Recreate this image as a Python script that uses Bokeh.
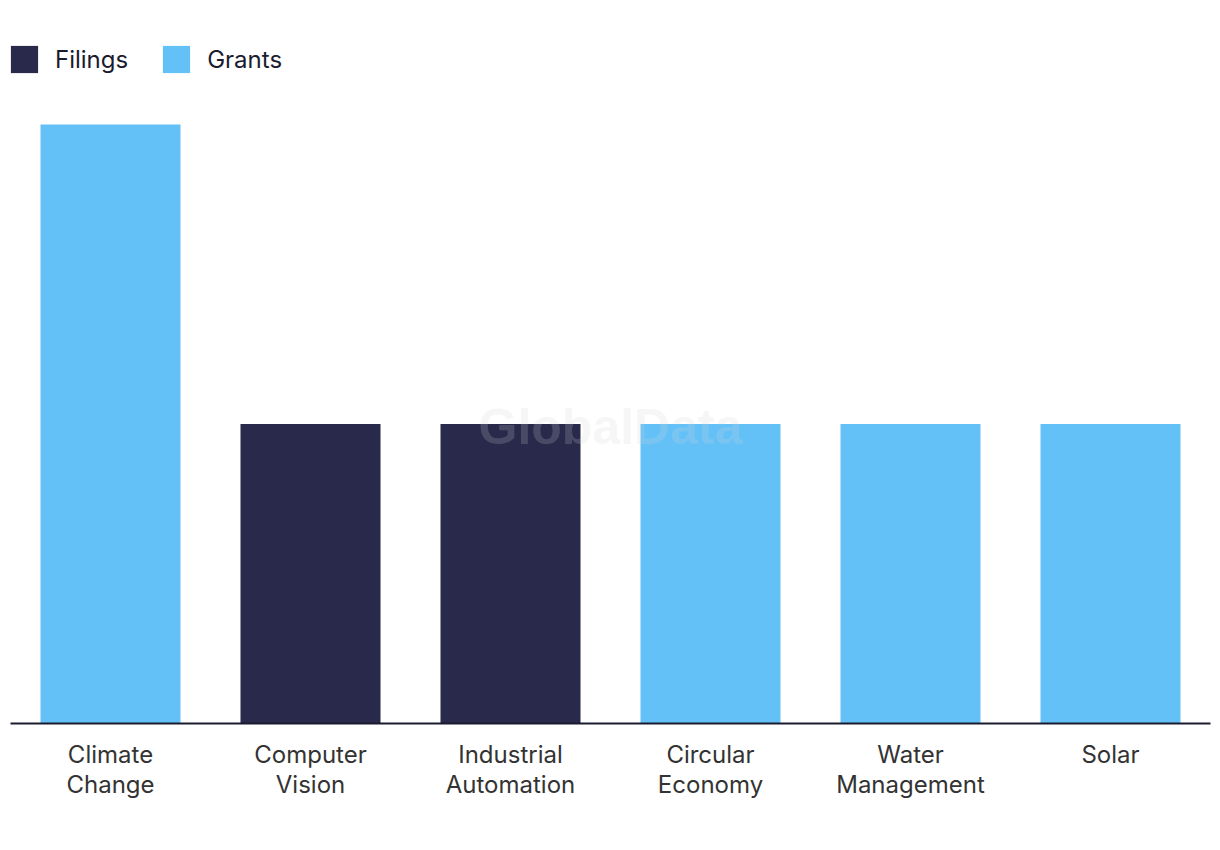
from bokeh.plotting import figure
from bokeh.models import (ColumnDataSource, FactorRange, Range1d, Legend, LegendItem,
                          CategoricalAxis, CustomJSTickFormatter)
from bokeh.core.properties import value
from bokeh.embed import file_html
from bokeh.resources import INLINE

categories = ["Climate Change", "Computer Vision", "Industrial Automation",
              "Circular Economy", "Water Management", "Solar"]
label_line1 = ["Climate", "Computer", "Industrial", "Circular", "Water", "Solar"]
label_line2 = ["Change", "Vision", "Automation", "Economy", "Management", ""]
values = [2, 1, 1, 1, 1, 1]
kinds = ["Grants", "Filings", "Filings", "Grants", "Grants", "Grants"]

colors = {"Filings": "#28294b", "Grants": "#63c1f8"}
FONT = "Inter"

FRAME_TOP = 42
FRAME_BOTTOM = 723
H = 840
frame_h = FRAME_BOTTOM - FRAME_TOP

p = figure(width=1215, height=H, output_backend="svg", toolbar_location=None,
           x_range=FactorRange(*categories, range_padding=0),
           y_range=Range1d(0, frame_h / 299.5),
           min_border_left=10, min_border_right=5, min_border_top=FRAME_TOP,
           min_border_bottom=H - FRAME_BOTTOM)
p.outline_line_color = None
p.grid.visible = False
p.yaxis.visible = False
p.background_fill_color = "white"
p.border_fill_color = "white"

renderers = {}
for k in ["Filings", "Grants"]:
    xs = [c for c, kk in zip(categories, kinds) if kk == k]
    ys = [v for v, kk in zip(values, kinds) if kk == k]
    src = ColumnDataSource(dict(x=xs, top=ys))
    renderers[k] = p.vbar(x="x", top="top", width=0.7, source=src,
                          fill_color=colors[k], line_color=None)

# watermark
p.text(x=[3.0], y=[0.99], text=["GlobalData"], text_align="center", text_baseline="middle",
       text_font=value("Liberation Sans"), text_font_style="bold", text_font_size="50px",
       text_color="#d0d0d0", text_alpha=0.2)

def line_formatter(lines):
    return CustomJSTickFormatter(args=dict(lines=dict(zip(categories, lines))),
                                 code="const v = lines.get ? lines.get(tick) : lines[tick]; return v === undefined ? tick : v;")

def style_axis(ax, standoff):
    ax.major_tick_line_color = None
    ax.minor_tick_line_color = None
    ax.major_label_standoff = standoff
    ax.major_label_text_font = FONT
    ax.major_label_text_font_size = "24px"
    ax.major_label_text_color = "#333333"

ax = p.xaxis[0]
ax.formatter = line_formatter(label_line1)
ax.axis_line_color = "#1b1b2f"
ax.axis_line_width = 2
style_axis(ax, 10)

ax2 = CategoricalAxis(formatter=line_formatter(label_line2))
ax2.axis_line_color = None
style_axis(ax2, -8)
p.add_layout(ax2, "below")

GW = 34
legend = Legend(items=[LegendItem(label="Filings", renderers=[renderers["Filings"]]),
                       LegendItem(label="Grants", renderers=[renderers["Grants"]])],
                location=(-3, frame_h - GW), orientation="horizontal",
                margin=0, padding=0, spacing=31, label_standoff=14,
                glyph_width=GW, glyph_height=GW,
                label_text_font=FONT, label_text_font_size="24px",
                label_text_color="#1b1b2f", border_line_color=None,
                background_fill_alpha=0)
p.add_layout(legend)

open("out.html", "w").write(file_html(p, INLINE))
